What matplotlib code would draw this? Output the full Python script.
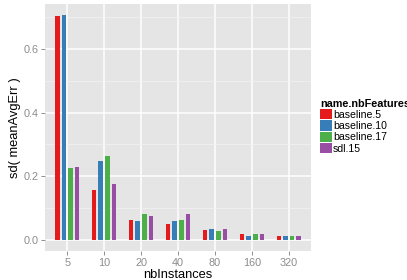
import numpy as np
import matplotlib
matplotlib.use("Agg")
import matplotlib.pyplot as plt

plt.rcParams['font.family'] = ['Liberation Sans', 'DejaVu Sans']

instances = ['5', '10', '20', '40', '80', '160', '320']
series = ['baseline.5', 'baseline.10', 'baseline.17', 'sdl.15']
sd_baseline5 = [0.704, 0.157, 0.063, 0.050, 0.031, 0.019, 0.013]
sd_baseline10 = [0.707, 0.248, 0.060, 0.060, 0.035, 0.013, 0.012]
sd_baseline17 = [0.226, 0.264, 0.082, 0.063, 0.028, 0.019, 0.013]
sd_sdl15 = [0.229, 0.176, 0.075, 0.082, 0.035, 0.019, 0.013]
colors = ['#E41A1C', '#377EB8', '#4DAF4A', '#984EA3']

values = [sd_baseline5, sd_baseline10, sd_baseline17, sd_sdl15]

fig = plt.figure(figsize=(4.07, 2.80), dpi=100)
ax = fig.add_axes([45 / 407, 29 / 280, 266 / 407, 247 / 280])
ax.set_facecolor('#E5E5E5')

x = np.arange(len(instances))
slot = 0.18
bw = 0.125
for i, (name, vals) in enumerate(zip(series, values)):
    ax.bar(x + (i - 1.5) * slot, vals, width=bw, color=colors[i], label=name, zorder=3)

ax.set_xlim(-0.6, len(instances) - 0.4)
ax.set_ylim(-0.0355, 0.7425)
ax.set_xticks(x)
ax.set_xticklabels(instances)
ax.set_yticks([0.0, 0.2, 0.4, 0.6])
ax.set_yticklabels(['0.0', '0.2', '0.4', '0.6'])
ax.set_yticks([0.1, 0.3, 0.5, 0.7], minor=True)
ax.grid(which='major', color='white', linewidth=1.1, zorder=0)
ax.grid(which='minor', axis='y', color='#F2F2F2', linewidth=0.5, zorder=0)
ax.set_axisbelow(True)
for s in ax.spines.values():
    s.set_visible(False)
ax.tick_params(axis='both', which='major', colors='#7F7F7F', labelcolor='#8C8C8C',
               length=3, width=0.6, labelsize=7.8, pad=1.5)
ax.tick_params(axis='x', which='major', pad=2.2)
ax.tick_params(axis='both', which='minor', length=0)

ax.set_xlabel('nbInstances', fontsize=9.3, labelpad=0.5)
ax.set_ylabel('sd( meanAvgErr )', fontsize=9.3, labelpad=2)

# legend title runs past the right edge, as in the original
leg = fig.legend(loc='upper left', bbox_to_anchor=(320 / 407, 1 - 98.5 / 280),
                 title='name.nbFeatures', frameon=False, fontsize=7.6,
                 title_fontproperties={'weight': 'bold', 'size': 7.8},
                 handlelength=1.1, handleheight=1.1, labelspacing=0.06,
                 handletextpad=0.15, borderpad=0, borderaxespad=0)
leg._legend_box.align = 'left'

fig.savefig('out.png', dpi=100)
